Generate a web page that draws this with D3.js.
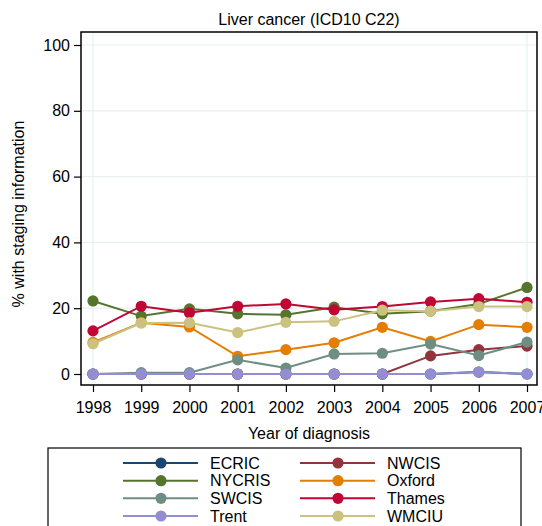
<!DOCTYPE html>
<html>
<head>
<meta charset="utf-8">
<script src="https://cdn.jsdelivr.net/npm/d3@7"></script>
<style>
  html, body { margin: 0; padding: 0; background: #fff; }
  text { font-family: "Liberation Sans", Arial, Helvetica, sans-serif; fill: #000; }
</style>
</head>
<body>
<svg id="chart" width="542" height="526"></svg>
<script>
// Years of diagnosis
const years = [1998, 1999, 2000, 2001, 2002, 2003, 2004, 2005, 2006, 2007];
const yTicks = [0, 20, 40, 60, 80, 100];

// Percentage of liver cancer cases with staging information, by registry
const ecric  = [0, 0, 0, 0, 0, 0, 0, 0, 0.6, 0];
const nwcis  = [0, 0, 0, 0, 0, 0, 0, 5.5, 7.4, 8.5];
const nycris = [22.2, 17.6, 19.8, 18.3, 18.0, 20.3, 18.3, 19.1, 21.3, 26.3];
const oxford = [9.6, 15.6, 14.3, 5.4, 7.4, 9.5, 14.2, 9.9, 15.0, 14.2];
const swcis  = [0, 0.4, 0.4, 4.3, 1.8, 6.1, 6.3, 9.1, 5.6, 9.7];
const thames = [13.1, 20.6, 18.6, 20.6, 21.3, 19.5, 20.5, 21.9, 22.9, 21.8];
const trent  = [0, 0, 0, 0, 0, 0, 0, 0, 0.6, 0];
const wmciu  = [9.2, 15.5, 15.6, 12.6, 15.7, 16.0, 19.4, 19.1, 20.5, 20.5];

const registries = ["ECRIC", "NWCIS", "NYCRIS", "Oxford", "SWCIS", "Thames", "Trent", "WMCIU"];
const seriesValues = [ecric, nwcis, nycris, oxford, swcis, thames, trent, wmciu];
const colors = ["#1a476f", "#90353b", "#55752f", "#e37e00", "#6e8e84", "#c10534", "#938dd2", "#cac27e"];

const series = registries.map((name, i) => ({
  name,
  color: colors[i],
  values: years.map((yr, j) => ({ year: yr, value: seriesValues[i][j] }))
}));

const svg = d3.select("#chart");
const fontSize = "16px";

// Plot frame and scales
const frame = { left: 81, top: 32, right: 537, bottom: 385 };
const x = d3.scaleLinear().domain([1998, 2007]).range([93, 527]);
const y = d3.scaleLinear().domain([0, 100]).range([374, 45]);

// Title
svg.append("text")
  .attr("x", (frame.left + frame.right) / 2)
  .attr("y", 25)
  .attr("text-anchor", "middle")
  .style("font-size", fontSize)
  .text("Liver cancer (ICD10 C22)");

// Grid lines
const grid = svg.append("g").attr("stroke", "#e8f0f2").attr("stroke-width", 1.2);
grid.selectAll("line.h").data(yTicks).enter().append("line")
  .attr("x1", frame.left).attr("x2", frame.right)
  .attr("y1", d => y(d)).attr("y2", d => y(d));
grid.selectAll("line.v").data([1998, 2007]).enter().append("line")
  .attr("x1", d => x(d)).attr("x2", d => x(d))
  .attr("y1", frame.top).attr("y2", frame.bottom);

// Frame
svg.append("rect")
  .attr("x", frame.left).attr("y", frame.top)
  .attr("width", frame.right - frame.left)
  .attr("height", frame.bottom - frame.top)
  .attr("fill", "none").attr("stroke", "#000").attr("stroke-width", 1.5);

// Axes
const yAxis = d3.axisLeft(y).tickValues(yTicks).tickSize(7).tickPadding(4);
const gy = svg.append("g").attr("transform", `translate(${frame.left},0)`).call(yAxis);
gy.select(".domain").remove();
gy.selectAll("text").style("font-size", fontSize).attr("fill", "#000");

const xAxis = d3.axisBottom(x).tickValues(years).tickFormat(d3.format("d")).tickSize(7).tickPadding(10);
const gx = svg.append("g").attr("transform", `translate(0,${frame.bottom})`).call(xAxis);
gx.select(".domain").remove();
gx.selectAll("text").style("font-size", fontSize).attr("fill", "#000");
svg.selectAll(".tick line").attr("stroke", "#000").attr("stroke-width", 1.2);

// Axis titles
svg.append("text")
  .attr("x", (frame.left + frame.right) / 2)
  .attr("y", 439)
  .attr("text-anchor", "middle")
  .style("font-size", fontSize)
  .text("Year of diagnosis");

svg.append("text")
  .attr("transform", "translate(24,214) rotate(-90)")
  .attr("text-anchor", "middle")
  .style("font-size", fontSize)
  .text("% with staging information");

// Series lines and markers
const line = d3.line().x(d => x(d.year)).y(d => y(d.value));
const gs = svg.append("g");
series.forEach(s => {
  const g = gs.append("g");
  g.append("path")
    .datum(s.values)
    .attr("d", line)
    .attr("fill", "none")
    .attr("stroke", s.color)
    .attr("stroke-width", 2);
  g.selectAll("circle").data(s.values).enter().append("circle")
    .attr("cx", d => x(d.year))
    .attr("cy", d => y(d.value))
    .attr("r", 5.6)
    .attr("fill", s.color);
});

// Legend
const legend = svg.append("g");
legend.append("rect")
  .attr("x", 48).attr("y", 448)
  .attr("width", 473).attr("height", 90)
  .attr("fill", "#fff").attr("stroke", "#000").attr("stroke-width", 1.2);

const rowY = d3.scalePoint().domain([0, 1, 2, 3]).range([463, 516]);
const colX = [123, 300];
series.forEach((s, i) => {
  const col = i % 2, row = Math.floor(i / 2);
  const x0 = colX[col], yy = rowY(row);
  const item = legend.append("g");
  item.append("line")
    .attr("x1", x0).attr("x2", x0 + 75)
    .attr("y1", yy).attr("y2", yy)
    .attr("stroke", s.color).attr("stroke-width", 2);
  item.append("circle")
    .attr("cx", x0 + 38).attr("cy", yy).attr("r", 5.6)
    .attr("fill", s.color);
  item.append("text")
    .attr("x", x0 + 87).attr("y", yy)
    .attr("dy", "0.36em")
    .style("font-size", fontSize)
    .text(s.name);
});
</script>
</body>
</html>
